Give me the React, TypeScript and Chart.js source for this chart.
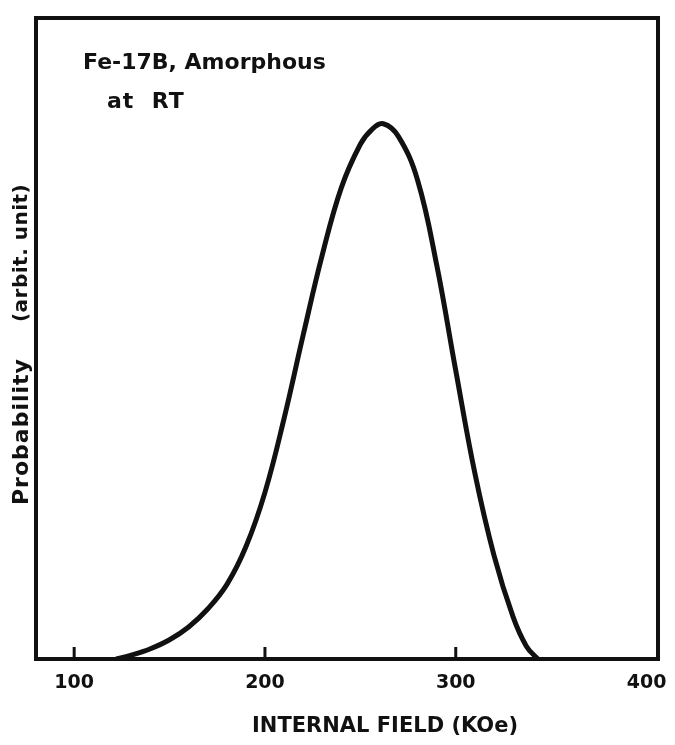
import React, { useEffect, useRef } from "react";
import { Chart, registerables } from "chart.js";

Chart.register(...registerables);

// Internal field (KOe) and probability (arbitrary units, 0..100 = full plot height)
const fieldKOe = [122, 130, 140, 150, 160, 170, 180, 190, 200, 210, 220, 230, 240, 250, 256, 262, 270, 280, 290, 300, 310, 320, 330, 337, 343];
const probability = [0, 0.6, 1.6, 3.0, 5.0, 7.8, 11.6, 17.5, 26.0, 37.5, 50.5, 63.0, 73.5, 80.3, 82.6, 83.5, 81.5, 74.7, 61.5, 45.0, 29.0, 16.2, 6.6, 2.0, 0];
const xTickValues = [100, 200, 300, 400];
const innerTickValues = [100, 200, 300];
const xTitle = "INTERNAL FIELD (KOe)";
const yTitleMain = "Probability";
const yTitleUnit = "(arbit. unit)";
const noteLines = ["Fe-17B, Amorphous", "at  RT"];

const INK = "#111111";
const FONT = "'DejaVu Sans', sans-serif";

const framePlugin = {
  id: "frame",
  afterDraw(chart: any) {
    const { ctx, chartArea } = chart;
    const xs = chart.scales.x;
    ctx.save();
    ctx.strokeStyle = INK;
    ctx.lineWidth = 4;
    ctx.strokeRect(chartArea.left, chartArea.top, chartArea.right - chartArea.left, chartArea.bottom - chartArea.top);
    // inner tick marks
    ctx.lineWidth = 3;
    innerTickValues.forEach((v) => {
      const px = xs.getPixelForValue(v);
      ctx.beginPath();
      ctx.moveTo(px, chartArea.bottom);
      ctx.lineTo(px, chartArea.bottom - 12);
      ctx.stroke();
    });
    // annotation
    ctx.fillStyle = INK;
    ctx.textBaseline = "alphabetic";
    ctx.textAlign = "left";
    ctx.font = `bold 22px ${FONT}`;
    ctx.fillText(noteLines[0], chartArea.left + 47, chartArea.top + 51);
    (ctx as any).letterSpacing = "1px";
    ctx.fillText(noteLines[1], chartArea.left + 71, chartArea.top + 90);
    (ctx as any).letterSpacing = "0px";
    // x title
    ctx.font = `bold 21px ${FONT}`;
    ctx.textAlign = "center";
    ctx.textBaseline = "middle";
    ctx.fillText(xTitle, (chartArea.left + chartArea.right) / 2 + 38, 727);
    // y title (rotated)
    ctx.save();
    ctx.translate(22, chartArea.bottom - 154);
    ctx.rotate(-Math.PI / 2);
    ctx.textAlign = "left";
    ctx.textBaseline = "middle";
    ctx.font = `bold 22px ${FONT}`;
    (ctx as any).letterSpacing = "1px";
    ctx.fillText(yTitleMain, 0, 0);
    const w = ctx.measureText(yTitleMain).width;
    (ctx as any).letterSpacing = "0.5px";
    ctx.font = `bold 20px ${FONT}`;
    ctx.fillText(yTitleUnit, w + 36, 0);
    ctx.restore();
    ctx.restore();
  },
};

export default function App() {
  const ref = useRef<HTMLCanvasElement | null>(null);
  useEffect(() => {
    if (!ref.current) return;
    const chart = new Chart(ref.current, {
      type: "line",
      data: {
        datasets: [
          {
            data: fieldKOe.map((x, i) => ({ x, y: probability[i] })),
            borderColor: INK,
            borderWidth: 5,
            pointRadius: 0,
            fill: false,
            tension: 0.4,
          },
        ],
      },
      options: {
        animation: false,
        responsive: false,
        maintainAspectRatio: false,
        layout: { padding: { top: 18, right: 17, left: 0, bottom: 0 } },
        plugins: { legend: { display: false }, tooltip: { enabled: false } },
        scales: {
          x: {
            type: "linear",
            min: 80,
            max: 406,
            afterBuildTicks: (s: any) => {
              s.ticks = xTickValues.map((v) => ({ value: v }));
            },
            afterFit: (s: any) => {
              s.height = 86;
              s.paddingRight = 0;
              s.paddingLeft = 0;
            },
            grid: { display: false, drawTicks: false },
            border: { display: false },
            ticks: {
              color: INK,
              padding: 13,
              maxRotation: 0,
              autoSkip: false,
              font: { family: FONT, size: 19, weight: "bold" },
            },
          },
          y: {
            min: 0,
            max: 100,
            afterFit: (s: any) => {
              s.width = 36;
            },
            grid: { display: false, drawTicks: false },
            border: { display: false },
            ticks: { display: false },
            title: { display: false },
          },
        },
      },
      plugins: [framePlugin],
    } as any);
    return () => chart.destroy();
  }, []);
  return (
    <div style={{ position: "absolute", left: 0, top: 0, width: 675, height: 745, background: "#fff" }}>
      <canvas ref={ref} width={675} height={745} style={{ width: 675, height: 745 }} />
    </div>
  );
}
